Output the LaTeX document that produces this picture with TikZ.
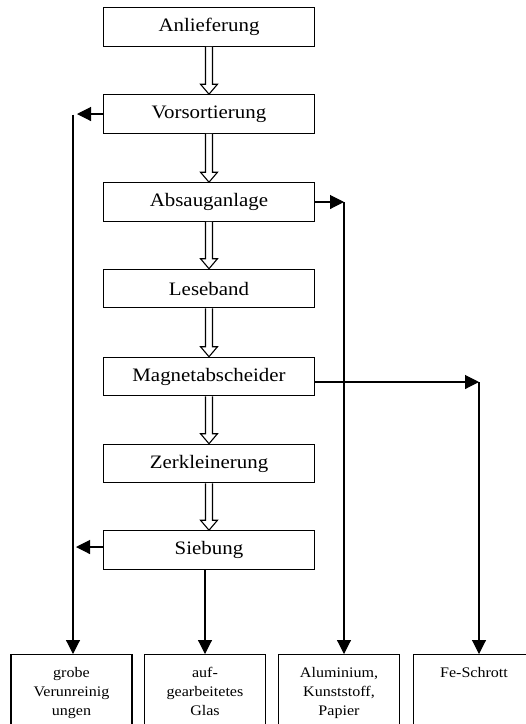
\documentclass[tikz,border=0pt]{standalone}
\usepackage{fontspec}
\setmainfont{Liberation Serif}[FakeStretch=1.1]
\usetikzlibrary{arrows.meta}
\newcommand\hollowarrow[2]{%
  \draw[hollow] ([xshift=-3.5pt]#1.south) -- ([xshift=-3.5pt,yshift=10pt]#2.north)
   -- ([xshift=-8.5pt,yshift=10pt]#2.north) -- (#2.north)
   -- ([xshift=8.5pt,yshift=10pt]#2.north) -- ([xshift=3.5pt,yshift=10pt]#2.north)
   -- ([xshift=3.5pt]#1.south);}
\begin{document}
\begin{tikzpicture}[x=1pt,y=-1pt,
  box/.style={draw,line width=1.1pt,minimum width=211pt,minimum height=38.5pt,inner sep=0pt,font=\fontsize{19}{22}\selectfont},
  obox/.style={draw,line width=1.1pt,anchor=north,inner sep=3pt,font=\fontsize{14.6}{19}\selectfont},
  arr/.style={line width=1.1pt,-{Triangle[length=14pt,width=14pt]}},
  hollow/.style={draw,line width=1.1pt,fill=white,line join=miter}]
\useasboundingbox (0,0) rectangle (526,724);
\node[box] (anl) at (209,27) {Anlieferung};
\node[box] (vor) at (209,114) {Vorsortierung};
\node[box] (abs) at (209,202) {Absauganlage};
\node[box] (les) at (209,288.5) {Leseband};
\node[box] (mag) at (209,376.5) {Magnetabscheider};
\node[box] (zer) at (209,463.5) {Zerkleinerung};
\node[box] (sie) at (209,550) {Siebung};
\node[obox] (g1) at (71.5,654) {\parbox[t][90pt][t]{115pt}{\centering\rule{0pt}{20pt}grobe\\Verunreinig\\ungen}};
\node[obox] (g2) at (205,654) {\parbox[t][90pt][t]{115pt}{\centering\rule{0pt}{20pt}auf-\\gearbeitetes\\Glas}};
\node[obox] (g3) at (339,654) {\parbox[t][90pt][t]{115pt}{\centering\rule{0pt}{20pt}Aluminium,\\Kunststoff,\\Papier}};
\node[obox] (g4) at (474,654) {\parbox[t][90pt][t]{115pt}{\centering\rule{0pt}{20pt}Fe-Schrott}};
\hollowarrow{anl}{vor}
\hollowarrow{vor}{abs}
\hollowarrow{abs}{les}
\hollowarrow{les}{mag}
\hollowarrow{mag}{zer}
\hollowarrow{zer}{sie}
\coordinate (vtip) at (77,114);
\coordinate (ltop) at (73,114.5);
\coordinate (stip) at (76,547);
\coordinate (acor) at (344,202);
\coordinate (mcor) at (479,382);
\draw[arr] (vor.west) -- (vtip);
\draw[arr] (ltop) -- (ltop |- g1.north);
\draw[arr] ([yshift=3pt]sie.west) -- (stip);
\draw[arr] (abs.east) -- (acor);
\draw[arr] (acor) -- (acor |- g3.north);
\draw[arr] ([yshift=-5.5pt]mag.east) -- (mcor);
\draw[arr] (mcor) -- (mcor |- g4.north);
\draw[arr] (g2.north |- sie.south) -- (g2.north);
\end{tikzpicture}
\end{document}
